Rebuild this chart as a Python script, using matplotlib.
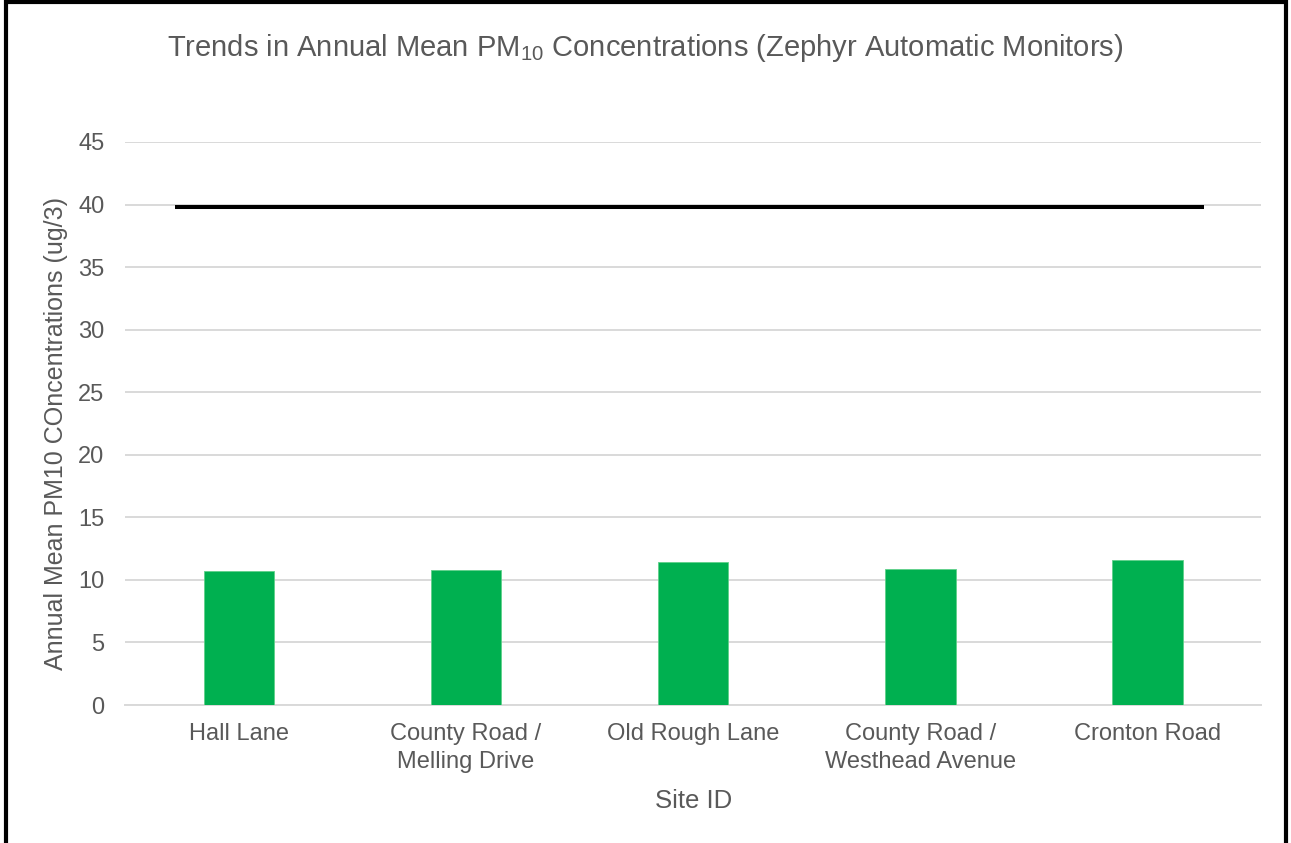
import numpy as np
import matplotlib
matplotlib.use("Agg")
import matplotlib.pyplot as plt
from matplotlib.patches import Rectangle

# Data
sites = ['Hall Lane', 'County Road /\nMelling Drive', 'Old Rough Lane',
         'County Road /\nWesthead Avenue', 'Cronton Road']
pm10_mean = [10.67, 10.78, 11.40, 10.85, 11.58]
objective_x = [-0.28, 4.25]
objective_y = [39.8, 39.8]
y_ticks = [0, 5, 10, 15, 20, 25, 30, 35, 40, 45]

plt.rcParams['font.family'] = ['Liberation Sans', 'DejaVu Sans']
plt.rcParams['mathtext.fontset'] = 'custom'
plt.rcParams['mathtext.rm'] = 'Liberation Sans'
plt.rcParams['mathtext.it'] = 'Liberation Sans'

grey = '#595959'

fig = plt.figure(figsize=(12.91, 8.43), dpi=100)
ax = fig.add_axes([0.0971, 0.1637, 0.8797, 0.6679])

x = np.arange(len(sites))
ax.bar(x, pm10_mean, width=0.31, color='#00B050', edgecolor='#5fd08a', linewidth=0.6, zorder=3)
ax.plot(objective_x, objective_y, color='black', linewidth=2.9, solid_capstyle='butt', zorder=4)

ax.set_xlim(-0.5, len(sites) - 0.5)
ax.set_ylim(0, 45)
ax.set_yticks(y_ticks)
ax.set_xticks(x)
ax.set_xticklabels(sites, fontsize=17, color=grey, linespacing=1.33)
ax.tick_params(axis='y', labelsize=17, labelcolor=grey, length=0, pad=15)
ax.tick_params(axis='x', length=0, pad=13)
ax.grid(axis='y', color='#d9d9d9', linewidth=1.4, zorder=0)
for s in ['top', 'right', 'left']:
    ax.spines[s].set_visible(False)
ax.spines['bottom'].set_color('#d9d9d9')
ax.spines['bottom'].set_linewidth(1.4)

ax.set_xlabel('Site ID', fontsize=18.5, color=grey, labelpad=12)
ax.set_ylabel('Annual Mean PM10 COncentrations (ug/3)', fontsize=18, color=grey)
ax.yaxis.set_label_coords(-0.0504, 0.483)

fig.text(0.5, 0.943, r'Trends in Annual Mean PM$_{10}$ Concentrations (Zephyr Automatic Monitors)',
         ha='center', va='center', fontsize=21, color=grey)

# black frame around the chart (bottom edge runs off the image)
fig.patches.append(Rectangle((0.0046, -0.05), 0.9915, 1.0476, transform=fig.transFigure,
                             fill=False, edgecolor='black', linewidth=3, clip_on=False))

fig.savefig('out.png', dpi=100)
